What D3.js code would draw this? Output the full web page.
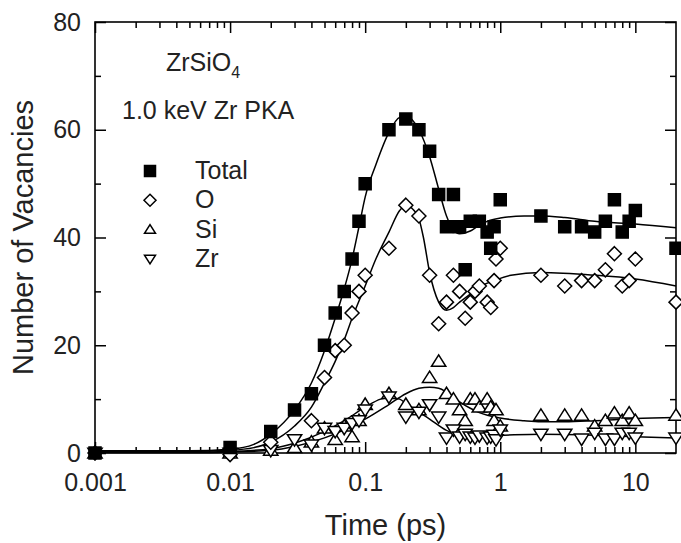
<!DOCTYPE html>
<html>
<head>
<meta charset="utf-8">
<script src="https://cdn.jsdelivr.net/npm/d3@7"></script>
<style>
  body { margin: 0; background: #fff; }
  svg { display: block; font-family: "Liberation Sans", Arial, Helvetica, sans-serif; }
  .axis path { display: none; }
  .axis line { stroke: #000; stroke-width: 1.5; }
  .axis text { font-size: 25px; fill: #222; }
</style>
</head>
<body>
<script>
// Vacancies vs time for a 1.0 keV Zr PKA in ZrSiO4.

var width = 681,
    height = 543,
    margin = {left: 95, right: 5, top: 22, bottom: 90};

// Symbol data (time in ps, number of vacancies).
var totalT = [0.001, 0.01, 0.02, 0.03, 0.04, 0.05, 0.06, 0.07, 0.08, 0.09, 0.1, 0.15, 0.2, 0.25, 0.3, 0.35, 0.4, 0.45, 0.5, 0.55, 0.6, 0.7, 0.8, 0.85, 0.9, 1, 2, 3, 4, 5, 6, 7, 8, 9, 10, 20];
var totalV = [0, 1, 4, 8, 11, 20, 26, 30, 36, 43, 50, 60, 62, 60, 56, 48, 42, 48, 42, 34, 43, 43, 41, 38, 42, 47, 44, 42, 42, 41, 43, 47, 41, 43, 45, 38];

var oT = [0.001, 0.01, 0.02, 0.04, 0.05, 0.06, 0.07, 0.08, 0.09, 0.1, 0.15, 0.2, 0.25, 0.3, 0.35, 0.4, 0.45, 0.5, 0.55, 0.6, 0.65, 0.7, 0.8, 0.85, 0.9, 0.93, 1, 2, 3, 4, 5, 6, 7, 8, 9, 10, 20];
var oV = [0, -0.3, 2, 6, 14, 19, 20, 26, 30, 33, 38, 46, 44, 33, 24, 28, 33, 30, 25, 28, 30, 31, 28, 27, 32, 36, 38, 33, 31, 32, 32, 34, 37, 31, 32, 36, 28];

var siT = [0.001, 0.01, 0.02, 0.03, 0.04, 0.05, 0.06, 0.07, 0.08, 0.09, 0.1, 0.15, 0.2, 0.25, 0.3, 0.35, 0.4, 0.45, 0.5, 0.55, 0.6, 0.65, 0.7, 0.8, 0.85, 0.9, 0.93, 1, 2, 3, 4, 5, 6, 7, 8, 9, 10, 20];
var siV = [0, 0, 0.5, 1, 2, 4.6, 2.5, 5, 3, 6, 9, 11, 9, 8, 14, 17, 11, 10, 8, 6, 10, 10, 8.5, 10, 8.5, 6, 8, 5, 7, 7, 7, 5, 6, 7.4, 6, 7.4, 6, 7];

var zrT = [0.001, 0.01, 0.02, 0.03, 0.04, 0.05, 0.06, 0.07, 0.08, 0.09, 0.1, 0.15, 0.2, 0.25, 0.3, 0.35, 0.4, 0.45, 0.5, 0.55, 0.6, 0.65, 0.7, 0.8, 0.85, 0.9, 0.93, 1, 2, 3, 4, 5, 6, 7, 8, 9, 10, 20];
var zrV = [0, 0, 0.5, 2.5, 1.5, 4.6, 4, 4.6, 5.5, 6, 8, 10.4, 6.7, 7.6, 9, 6.7, 2.8, 4.3, 3, 3.5, 3, 2.8, 3.2, 2.8, 3, 3.3, 2.5, 4.3, 3.5, 3.5, 2.6, 3.7, 2.6, 2.6, 3.7, 3.7, 2.8, 2.8];

// Fitted curves.
var totalFitT = [0.001, 0.005, 0.01, 0.015, 0.02, 0.03, 0.04, 0.05, 0.06, 0.07, 0.08, 0.09, 0.1, 0.12, 0.15, 0.18, 0.2, 0.25, 0.3, 0.35, 0.4, 0.45, 0.5, 0.6, 0.7, 0.8, 1, 1.5, 2, 3, 5, 10, 20];
var totalFitV = [0.4, 0.4, 0.7, 1.6, 3.5, 8, 13, 19, 25, 30.5, 36, 42, 47.5, 53.5, 59.5, 62.3, 62.5, 60, 55, 49, 44, 41.5, 40.7, 41.2, 42.3, 43, 43.6, 44, 44, 43.7, 43, 42.5, 41.8];

var oFitT = [0.001, 0.005, 0.01, 0.015, 0.02, 0.03, 0.04, 0.05, 0.06, 0.07, 0.08, 0.1, 0.12, 0.15, 0.18, 0.2, 0.22, 0.25, 0.27, 0.3, 0.35, 0.4, 0.45, 0.5, 0.6, 0.7, 0.9, 1.2, 2, 5, 10, 20];
var oFitV = [0.3, 0.3, 0.5, 1, 2, 5, 8.5, 13, 17, 21, 25, 31, 36, 41, 45, 46, 45.5, 43.5, 40, 33.5, 28, 26.5, 27, 28, 29.5, 30.8, 32, 33, 33.5, 33, 32.3, 31];

var siFitT = [0.001, 0.005, 0.01, 0.02, 0.03, 0.05, 0.07, 0.1, 0.15, 0.2, 0.25, 0.3, 0.35, 0.4, 0.5, 0.6, 0.7, 1, 1.5, 2, 3, 5, 10, 20];
var siFitV = [0.1, 0.1, 0.2, 0.5, 1.2, 2.8, 4.3, 6.3, 9, 11, 12, 12.2, 12, 11.3, 9.5, 8.3, 7.5, 6.5, 6, 5.8, 5.8, 6, 6.4, 6.6];

var zrFitT = [0.001, 0.005, 0.01, 0.02, 0.03, 0.05, 0.07, 0.1, 0.13, 0.15, 0.18, 0.2, 0.3, 0.4, 0.5, 0.7, 1, 2, 5, 10, 20];
var zrFitV = [0.2, 0.2, 0.3, 0.8, 1.8, 4, 6, 8.5, 10, 10.3, 10, 9.2, 6.3, 4.2, 3.4, 3.2, 3.3, 3.5, 3.3, 3, 2.8];

// Axis ticks.
var xMajor = [0.001, 0.01, 0.1, 1, 10];
var xLabels = ['0.001', '0.01', '0.1', '1', '10'];
var yMajor = [0, 20, 40, 60, 80];
var yMinor = [10, 30, 50, 70];

var legendNames = ['Total', 'O', 'Si', 'Zr'];

var svg = d3.select('body').append('svg')
    .attr('width', width)
    .attr('height', height);

var x = d3.scaleLog()
    .domain([0.001, 20])
    .range([margin.left, width - margin.right]);

var y = d3.scaleLinear()
    .domain([0, 80])
    .range([height - margin.bottom, margin.top]);

var x0 = x.range()[0], x1 = x.range()[1],
    y0 = y.range()[0], y1 = y.range()[1];

// minor x ticks: 2..9 of each decade
var xMinor = [];
[0.001, 0.01, 0.1, 1].forEach(function(d) {
    for (var k = 2; k <= 9; k++) xMinor.push(d * k);
});

function axisGroup(axis, tx, ty) {
    return svg.append('g')
        .classed('axis', true)
        .attr('transform', 'translate(' + tx + ',' + ty + ')')
        .call(axis);
}

// bottom
axisGroup(d3.axisBottom(x).tickValues(xMajor).tickSize(-11).tickPadding(20)
    .tickFormat(function(d, i) { return xLabels[i]; }), 0, y0)
    .selectAll('text').attr('dy', '0.71em');
axisGroup(d3.axisBottom(x).tickValues(xMinor).tickSize(-6).tickFormat(''), 0, y0);
// top
axisGroup(d3.axisTop(x).tickValues(xMajor).tickSize(-11).tickFormat(''), 0, y1);
axisGroup(d3.axisTop(x).tickValues(xMinor).tickSize(-6).tickFormat(''), 0, y1);
// left
axisGroup(d3.axisLeft(y).tickValues(yMajor).tickSize(-11).tickPadding(14)
    .tickFormat(d3.format('d')), x0, 0);
axisGroup(d3.axisLeft(y).tickValues(yMinor).tickSize(-6).tickFormat(''), x0, 0);
// right
axisGroup(d3.axisRight(y).tickValues(yMajor).tickSize(-11).tickFormat(''), x1, 0);
axisGroup(d3.axisRight(y).tickValues(yMinor).tickSize(-6).tickFormat(''), x1, 0);

// frame
svg.append('rect')
    .attr('x', x0)
    .attr('y', y1)
    .attr('width', x1 - x0)
    .attr('height', y0 - y1)
    .style('fill', 'none')
    .style('stroke', '#000')
    .style('stroke-width', 1.6);

// fitted curves
var line = d3.line()
    .curve(d3.curveMonotoneX)
    .x(function(d) { return x(d[0]); })
    .y(function(d) { return y(d[1]); });

[[totalFitT, totalFitV], [oFitT, oFitV], [siFitT, siFitV], [zrFitT, zrFitV]].forEach(function(f) {
    svg.append('path')
        .attr('d', line(d3.zip(f[0], f[1])))
        .style('fill', 'none')
        .style('stroke', '#000')
        .style('stroke-width', 1.5);
});

// symbols
function square(s) { return 'M' + (-s) + ',' + (-s) + 'h' + 2 * s + 'v' + 2 * s + 'h' + (-2 * s) + 'Z'; }
function diamond(s) { return 'M0,' + (-s) + 'L' + s + ',0L0,' + s + 'L' + (-s) + ',0Z'; }
function triUp(s) { return 'M0,' + (-s) + 'L' + (s * 1.1) + ',' + (s * 0.75) + 'L' + (-s * 1.1) + ',' + (s * 0.75) + 'Z'; }
function triDown(s) { return 'M0,' + s + 'L' + (s * 1.1) + ',' + (-s * 0.75) + 'L' + (-s * 1.1) + ',' + (-s * 0.75) + 'Z'; }

var series = [
    {t: siT, v: siV, shape: triUp, size: 6.5, fill: '#fff'},
    {t: zrT, v: zrV, shape: triDown, size: 6.5, fill: '#fff'},
    {t: oT, v: oV, shape: diamond, size: 7, fill: '#fff'},
    {t: totalT, v: totalV, shape: square, size: 6, fill: '#000'}
];

series.forEach(function(s) {
    svg.append('g').selectAll('path')
        .data(d3.zip(s.t, s.v))
        .enter()
        .append('path')
        .attr('transform', function(d) { return 'translate(' + x(d[0]) + ',' + y(d[1]) + ')'; })
        .attr('d', s.shape(s.size))
        .style('fill', s.fill)
        .style('stroke', '#000')
        .style('stroke-width', 1.5);
});

// annotations
var title = svg.append('text')
    .attr('x', 166)
    .attr('y', 71)
    .style('font-size', '25px')
    .style('fill', '#222');
title.append('tspan').text('ZrSiO');
title.append('tspan').attr('dy', 7).style('font-size', '16px').text('4');

svg.append('text')
    .attr('x', 122)
    .attr('y', 119)
    .style('font-size', '25px')
    .style('fill', '#222')
    .text('1.0 keV Zr PKA');

// legend
var legendShapes = [square(5.5), diamond(6), triUp(5), triDown(5)];
var legendFills = ['#000', '#fff', '#fff', '#fff'];
var leg = svg.append('g').selectAll('g')
    .data(legendNames)
    .enter()
    .append('g')
    .attr('transform', function(d, i) { return 'translate(150,' + (171 + 29.3 * i) + ')'; });
leg.append('path')
    .attr('d', function(d, i) { return legendShapes[i]; })
    .style('fill', function(d, i) { return legendFills[i]; })
    .style('stroke', '#000')
    .style('stroke-width', 1.5);
leg.append('text')
    .attr('x', 45)
    .attr('y', 8)
    .style('font-size', '25px')
    .style('fill', '#222')
    .text(function(d) { return d; });

// axis titles
svg.append('text')
    .attr('x', (x0 + x1) / 2)
    .attr('y', 535)
    .attr('text-anchor', 'middle')
    .style('font-size', '29px')
    .style('fill', '#222')
    .text('Time (ps)');

svg.append('text')
    .attr('transform', 'translate(33,' + ((y0 + y1) / 2) + ') rotate(-90)')
    .attr('text-anchor', 'middle')
    .style('font-size', '29px')
    .style('fill', '#222')
    .text('Number of Vacancies');
</script>
</body>
</html>
